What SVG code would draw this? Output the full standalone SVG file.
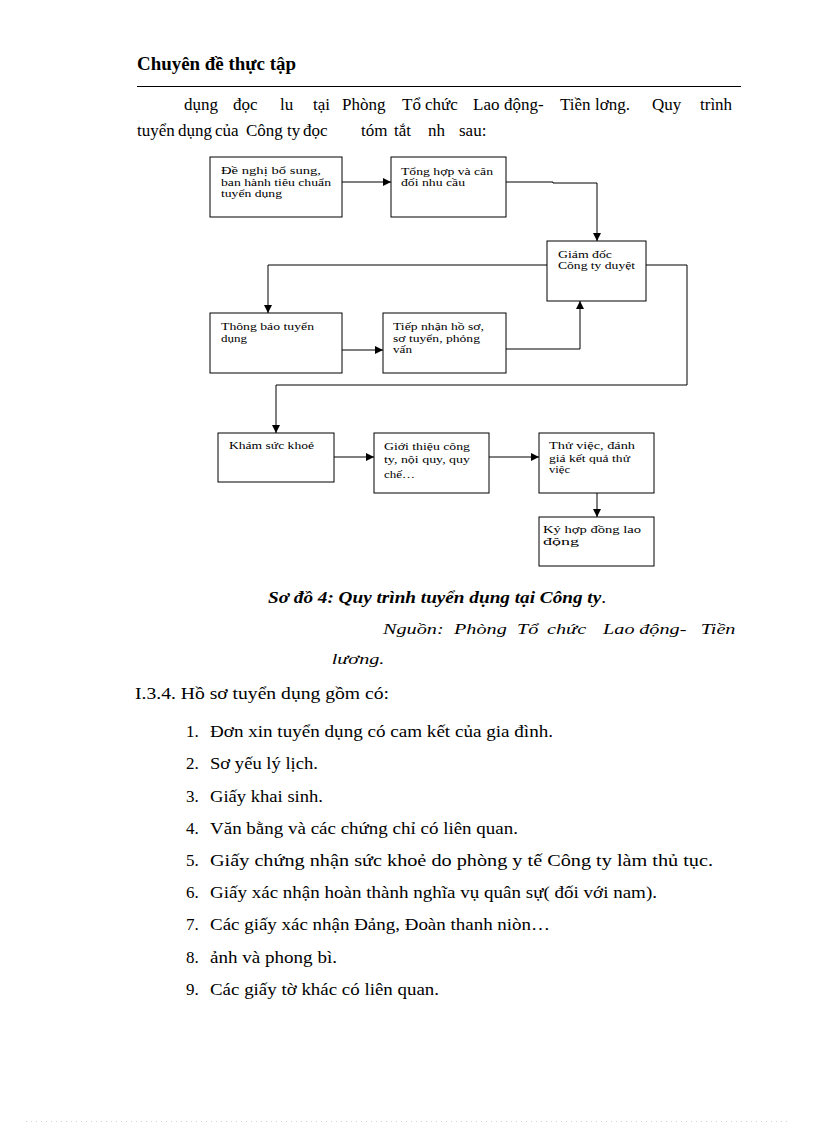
<svg xmlns="http://www.w3.org/2000/svg" width="816" height="1123" viewBox="0 0 816 1123">
<style>
.t{font-family:"Liberation Serif","Times New Roman",serif;fill:#000}
.box{fill:#fff;stroke:#000;stroke-width:1}
.bt{font-family:"Liberation Serif","Times New Roman",serif;font-size:11px;fill:#000}
.con{fill:none;stroke:#000;stroke-width:1}
.li{font-family:"Liberation Serif","Times New Roman",serif;font-size:17px;fill:#000}
</style>
<defs>
<marker id="arr" markerUnits="userSpaceOnUse" markerWidth="8" markerHeight="8" refX="8" refY="4" orient="auto">
<path d="M0,0 L8,4 L0,8 z" fill="#000"/>
</marker>
</defs>
<rect x="0" y="0" width="816" height="1123" fill="#fff"/>

<g id="header">
<text class="t" x="137" y="70" font-size="18" font-weight="bold" textLength="159" lengthAdjust="spacingAndGlyphs">Chuyên đề thực tập</text>
<line x1="137" y1="86.5" x2="741" y2="86.5" stroke="#000" stroke-width="1"/>
</g>

<g id="paragraph">
<text class="t" y="110" font-size="17"><tspan x="184">dụng</tspan><tspan x="233">đọc</tspan><tspan x="280">lu</tspan><tspan x="313">tại</tspan><tspan x="342">Phòng</tspan><tspan x="402">Tổ</tspan><tspan x="425">chức</tspan><tspan x="473">Lao</tspan><tspan x="504">động-</tspan><tspan x="560">Tiền</tspan><tspan x="595">lơng.</tspan><tspan x="652">Quy</tspan><tspan x="700">trình</tspan></text>
<text class="t" y="136" font-size="17"><tspan x="137">tuyển</tspan><tspan x="178">dụng</tspan><tspan x="215">của</tspan><tspan x="246">Công</tspan><tspan x="287">ty</tspan><tspan x="303">đọc</tspan><tspan x="361">tóm</tspan><tspan x="394">tắt</tspan><tspan x="428">nh</tspan><tspan x="459">sau:</tspan></text>
</g>

<g id="connectors">
<path class="con" d="M342,182 H391" marker-end="url(#arr)"/>
<path class="con" d="M506,182 H553 V183 H597 V241" marker-end="url(#arr)"/>
<path class="con" d="M547,265 H268 V313" marker-end="url(#arr)"/>
<path class="con" d="M646,265 H687 V385 H276 V433" marker-end="url(#arr)"/>
<path class="con" d="M342,350 H383" marker-end="url(#arr)"/>
<path class="con" d="M506,349 H580 V301" marker-end="url(#arr)"/>
<path class="con" d="M334,457 H374" marker-end="url(#arr)"/>
<path class="con" d="M489,457 H539" marker-end="url(#arr)"/>
<path class="con" d="M597,493 V517" marker-end="url(#arr)"/>
</g>

<g id="n1">
<rect class="box" x="210" y="157" width="132" height="60"/>
<text class="bt" x="221" y="174" textLength="100" lengthAdjust="spacingAndGlyphs">Đề nghị bổ sung,</text>
<text class="bt" x="221" y="185.5" textLength="110" lengthAdjust="spacingAndGlyphs">ban hành tiêu chuẩn</text>
<text class="bt" x="221" y="197" textLength="61" lengthAdjust="spacingAndGlyphs">tuyển dụng</text>
</g>
<g id="n2">
<rect class="box" x="391" y="157" width="115" height="60"/>
<text class="bt" x="401" y="174.5" textLength="92" lengthAdjust="spacingAndGlyphs">Tổng hợp và cân</text>
<text class="bt" x="401" y="185.5" textLength="64" lengthAdjust="spacingAndGlyphs">đối nhu cầu</text>
</g>
<g id="n3">
<rect class="box" x="547" y="241" width="99" height="60"/>
<text class="bt" x="558" y="257.5" textLength="54" lengthAdjust="spacingAndGlyphs">Giám đốc</text>
<text class="bt" x="558" y="268.5" textLength="77" lengthAdjust="spacingAndGlyphs">Công ty duyệt</text>
</g>
<g id="n4">
<rect class="box" x="210" y="313" width="132" height="60"/>
<text class="bt" x="221" y="330" textLength="93" lengthAdjust="spacingAndGlyphs">Thông báo tuyển</text>
<text class="bt" x="221" y="341.5" textLength="26" lengthAdjust="spacingAndGlyphs">dụng</text>
</g>
<g id="n5">
<rect class="box" x="383" y="313" width="123" height="60"/>
<text class="bt" x="393" y="330" textLength="91" lengthAdjust="spacingAndGlyphs">Tiếp nhận hồ sơ,</text>
<text class="bt" x="393" y="341.7" textLength="87" lengthAdjust="spacingAndGlyphs">sơ tuyển, phỏng</text>
<text class="bt" x="393" y="353.3" textLength="19" lengthAdjust="spacingAndGlyphs">vấn</text>
</g>
<g id="n6">
<rect class="box" x="218" y="433" width="116" height="49"/>
<text class="bt" x="229" y="449" textLength="85" lengthAdjust="spacingAndGlyphs">Khám sức khoẻ</text>
</g>
<g id="n7">
<rect class="box" x="374" y="433" width="115" height="60"/>
<text class="bt" x="384" y="449.5" textLength="86" lengthAdjust="spacingAndGlyphs">Giới thiệu công</text>
<text class="bt" x="384" y="463" textLength="86" lengthAdjust="spacingAndGlyphs">ty, nội quy, quy</text>
<text class="bt" x="384" y="478" textLength="31" lengthAdjust="spacingAndGlyphs">chế…</text>
</g>
<g id="n8">
<rect class="box" x="539" y="433" width="115" height="60"/>
<text class="bt" x="549" y="449.3" textLength="86" lengthAdjust="spacingAndGlyphs">Thử việc, đánh</text>
<text class="bt" x="549" y="461.5" textLength="81" lengthAdjust="spacingAndGlyphs">giá kết quả thử</text>
<text class="bt" x="549" y="473.3" textLength="21" lengthAdjust="spacingAndGlyphs">việc</text>
</g>
<g id="n9">
<rect class="box" x="539" y="517" width="115" height="49"/>
<text class="bt" x="543" y="533.3" textLength="98" lengthAdjust="spacingAndGlyphs">Ký hợp đồng lao</text>
<text class="bt" x="543" y="544.5" textLength="36" lengthAdjust="spacingAndGlyphs">động</text>
</g>

<g id="caption">
<text class="t" x="268" y="603" font-size="17" font-weight="bold" font-style="italic" textLength="338" lengthAdjust="spacingAndGlyphs">Sơ đồ 4: Quy trình tuyển dụng tại Công ty<tspan font-weight="normal" font-style="normal">.</tspan></text>
<g transform="scale(1.35 1)">
<text class="t" y="634" font-size="15" font-style="italic"><tspan x="283.7">Nguồn:</tspan><tspan x="336.3">Phòng</tspan><tspan x="383">Tổ</tspan><tspan x="405.2">chức</tspan><tspan x="446.7">Lao</tspan><tspan x="473.5">động-</tspan><tspan x="519">Tiền</tspan></text>
<text class="t" x="245.7" y="664" font-size="15" font-style="italic">lương.</text>
</g>
</g>

<g id="list">
<text class="t" x="135" y="699" font-size="17" textLength="254" lengthAdjust="spacingAndGlyphs">I.3.4. Hồ sơ tuyển dụng gồm có:</text>
<text class="li" x="186" y="737">1.</text><text class="li" x="210" y="737" textLength="343" lengthAdjust="spacingAndGlyphs">Đơn xin tuyển dụng có cam kết của gia đình.</text>
<text class="li" x="186" y="769">2.</text><text class="li" x="210" y="769" textLength="108" lengthAdjust="spacingAndGlyphs">Sơ yếu lý lịch.</text>
<text class="li" x="186" y="802">3.</text><text class="li" x="210" y="802" textLength="113" lengthAdjust="spacingAndGlyphs">Giấy khai sinh.</text>
<text class="li" x="186" y="834">4.</text><text class="li" x="210" y="834" textLength="308" lengthAdjust="spacingAndGlyphs">Văn bằng và các chứng chỉ có liên quan.</text>
<text class="li" x="186" y="866">5.</text><text class="li" x="210" y="866" textLength="503" lengthAdjust="spacingAndGlyphs">Giấy chứng nhận sức khoẻ do phòng y tế Công ty làm thủ tục.</text>
<text class="li" x="186" y="898">6.</text><text class="li" x="210" y="898" textLength="447" lengthAdjust="spacingAndGlyphs">Giấy xác nhận hoàn thành nghĩa vụ quân sự( đối với nam).</text>
<text class="li" x="186" y="930">7.</text><text class="li" x="210" y="930" textLength="340" lengthAdjust="spacingAndGlyphs">Các giấy xác nhận Đảng, Đoàn thanh niòn…</text>
<text class="li" x="186" y="963">8.</text><text class="li" x="210" y="963" textLength="127" lengthAdjust="spacingAndGlyphs">ảnh và phong bì.</text>
<text class="li" x="186" y="995">9.</text><text class="li" x="210" y="995" textLength="229" lengthAdjust="spacingAndGlyphs">Các giấy tờ khác có liên quan.</text>
</g>

<line x1="26" y1="1121.5" x2="791" y2="1121.5" stroke="#d0d0d0" stroke-width="1" stroke-dasharray="1 4"/>
</svg>
